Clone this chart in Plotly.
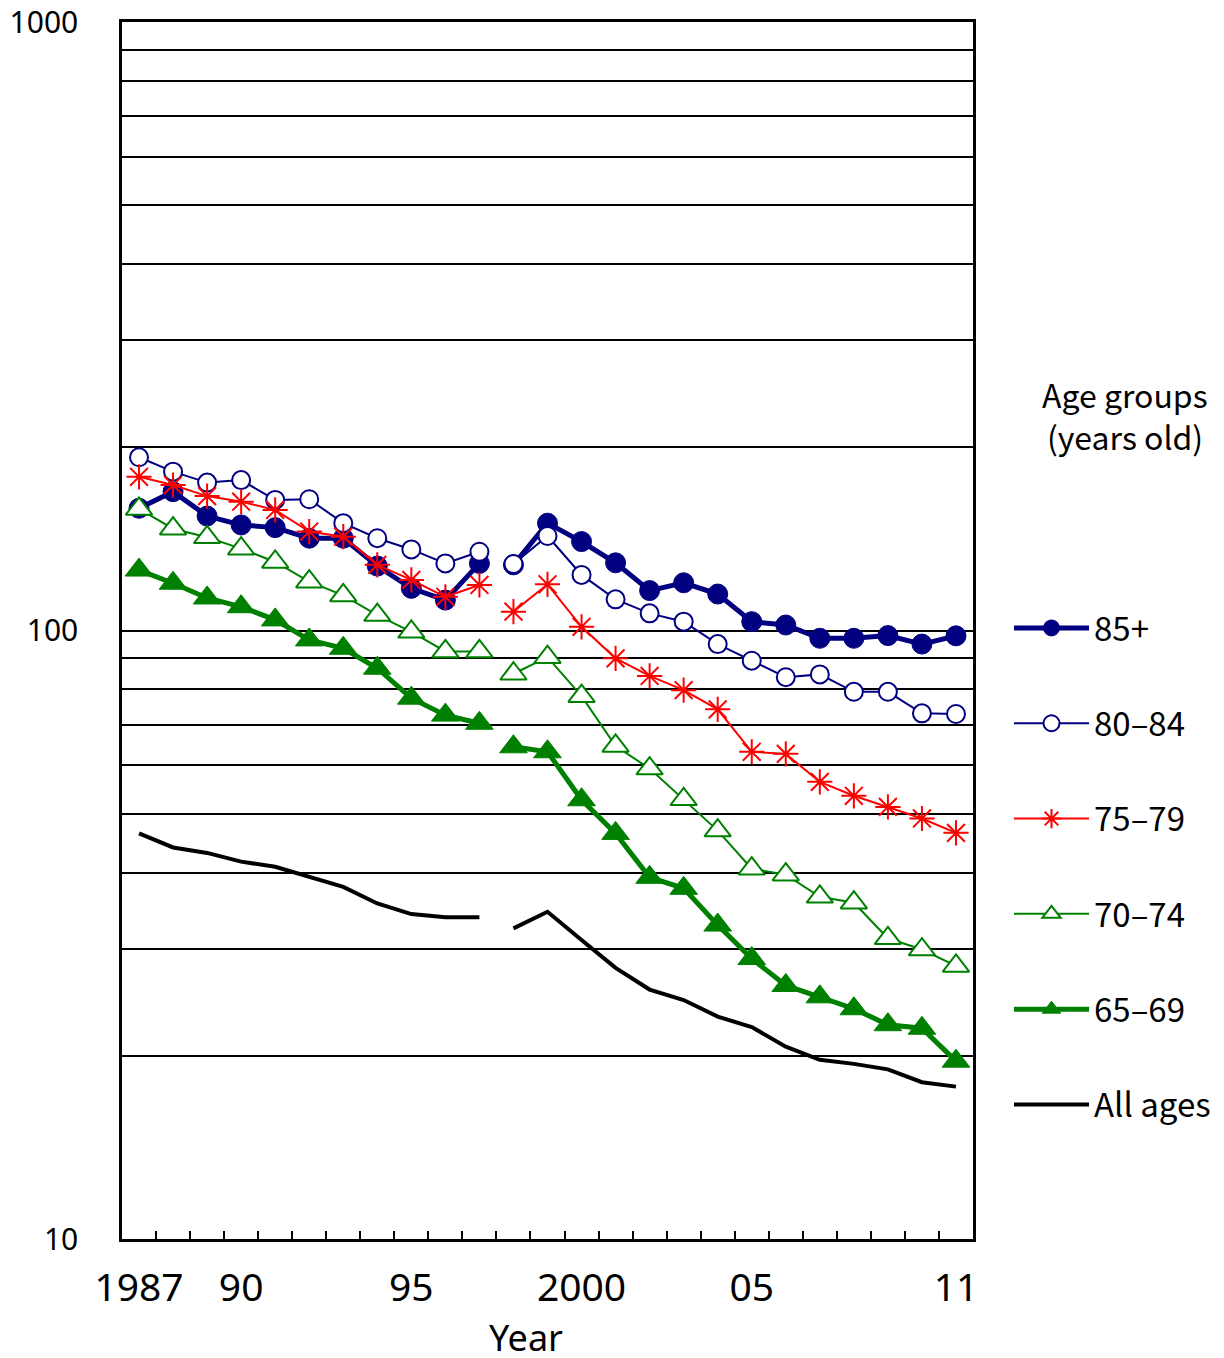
import plotly.graph_objects as go

years = list(range(1987, 2012))
break_after = 1997  # discontinuity between 1997 and 1998

age_85_plus = [158.8, 169.1, 154.2, 149.1, 147.6, 141.8, 141.8, 127.6, 117.3, 112.2, 128.9,
               128.2, 150.1, 140.0, 129.2, 116.3, 119.8, 114.8, 103.4, 102.1, 97.1, 97.1, 98.1, 95.0, 98.0]
age_80_84 = [192.6, 182.4, 175.0, 176.7, 163.9, 164.3, 150.1, 141.8, 135.9, 128.9, 134.7,
             128.6, 143.0, 123.4, 112.5, 106.7, 103.4, 95.0, 89.2, 83.8, 84.7, 79.3, 79.3, 73.1, 72.9]
age_75_79 = [178.9, 173.4, 166.3, 162.8, 157.8, 145.4, 142.6, 128.2, 121.1, 113.6, 118.8,
             107.4, 119.1, 101.4, 90.0, 84.2, 79.8, 74.2, 63.2, 62.7, 56.4, 53.5, 51.3, 49.1, 46.5]
age_70_74 = [158.4, 147.0, 142.3, 136.3, 129.6, 120.3, 114.2, 106.0, 99.5, 92.4, 92.4,
             84.9, 90.4, 78.0, 64.6, 59.3, 52.8, 46.9, 40.6, 39.7, 36.5, 35.7, 31.2, 29.9, 28.1]
age_65_69 = [125.7, 119.6, 113.1, 109.4, 104.1, 96.5, 93.5, 86.7, 77.4, 72.6, 70.4,
             64.4, 63.2, 52.7, 46.4, 39.3, 37.7, 32.8, 28.9, 26.1, 25.0, 23.9, 22.5, 22.2, 19.6]
all_ages = [46.4, 44.0, 43.1, 41.7, 40.9, 39.3, 37.9, 35.6, 34.2, 33.8, 33.8,
            32.4, 34.5, 31.0, 27.9, 25.7, 24.7, 23.2, 22.3, 20.7, 19.7, 19.4, 19.0, 18.1, 17.8]

x_tick_vals = [1987, 1990, 1995, 2000, 2005, 2011]
x_tick_text = ["1987", "90", "95", "2000", "05", "11"]
y_grid_vals = [10, 20, 30, 40, 50, 60, 70, 80, 90, 100, 200, 300, 400, 500, 600, 700, 800, 900, 1000]
y_label_vals = [10, 100, 1000]

NAVY = "#000080"
RED = "#FF0000"
GREEN = "#008000"
BLACK = "#000000"


def with_break(xs, ys):
    bx, by = [], []
    for x, y in zip(xs, ys):
        bx.append(x)
        by.append(y)
        if x == break_after:
            bx.append(None)
            by.append(None)
    return bx, by


series = [
    ("85+", age_85_plus, dict(color=NAVY, width=5), dict(symbol="circle", size=20, color=NAVY,
                                                         line=dict(color=NAVY, width=1))),
    ("80\u201384", age_80_84, dict(color=NAVY, width=2), dict(symbol="circle", size=18, color="white",
                                                              line=dict(color=NAVY, width=2))),
    ("75\u201379", age_75_79, dict(color=RED, width=2), dict(symbol="asterisk-open", size=21, color=RED,
                                                             line=dict(color=RED, width=2))),
    ("70\u201374", age_70_74, dict(color=GREEN, width=2), dict(symbol="triangle-up", size=23, color="white",
                                                               line=dict(color=GREEN, width=2))),
    ("65\u201369", age_65_69, dict(color=GREEN, width=5), dict(symbol="triangle-up", size=24, color=GREEN,
                                                               line=dict(color=GREEN, width=1))),
]

fig = go.Figure()
for i, (name, vals, line, marker) in enumerate(series):
    bx, by = with_break(years, vals)
    fig.add_trace(go.Scatter(x=bx, y=by, name=name, mode="lines+markers", line=line, marker=marker,
                             connectgaps=False, legendgroup=f"g{i}"))

bx, by = with_break(years, all_ages)
fig.add_trace(go.Scatter(x=bx, y=by, name="All ages", mode="lines", line=dict(color=BLACK, width=4),
                         connectgaps=False, legendgroup="g5"))

TICKFONT = "Noto Sans, sans-serif"
LEGFONT = "Noto Sans CJK JP, Noto Sans, sans-serif"

# page body adds an 8px offset; figure sized so the screenshot coordinates line up
OFF = 8
W, H = 1216, 1358
L, T = 122 - OFF, 22 - OFF
pw, ph = 851, 1217
R, B = W - L - pw, H - T - ph


def px_x(p):
    return (p - OFF - L) / pw


def px_y(p):
    return (T + ph - (p - OFF)) / ph


fig.update_layout(
    width=W, height=H,
    margin=dict(l=L, r=R, t=T, b=B, autoexpand=False),
    plot_bgcolor="white", paper_bgcolor="white",
    showlegend=True,
    legend=dict(
        x=px_x(1009), y=px_y(600), xanchor="left", yanchor="top",
        font=dict(family=LEGFONT, size=33, color="black"),
        traceorder="grouped", tracegroupgap=49.4, itemwidth=75,
        bgcolor="rgba(0,0,0,0)",
    ),
    xaxis=dict(
        range=[1986.5, 2011.5], tickvals=x_tick_vals, ticktext=x_tick_text,
        ticks="", showgrid=False, zeroline=False, automargin=False,
        showline=True, linecolor="black", linewidth=2.5, mirror=True,
        tickfont=dict(family=TICKFONT, size=39, color="black"),
        ticklabelstandoff=12, ticklabeloverflow="allow",
        minor=dict(tickvals=[y + 0.5 for y in years[:-1]], ticks="inside", ticklen=8,
                   tickwidth=1.5, tickcolor="black", showgrid=False),
    ),
    yaxis=dict(
        type="log", range=[1, 3], tickvals=y_grid_vals,
        ticktext=[str(v) if v in y_label_vals else "" for v in y_grid_vals],
        ticks="", showgrid=True, gridcolor="black", gridwidth=2, zeroline=False, automargin=False,
        showline=True, linecolor="black", linewidth=2.5, mirror=True,
        tickfont=dict(family=TICKFONT, size=30, color="black"),
        ticklabelstandoff=35, ticklabeloverflow="allow",
    ),
    annotations=[
        dict(text="Year", x=px_x(526), y=px_y(1337), xref="paper", yref="paper",
             xanchor="center", yanchor="middle", showarrow=False,
             font=dict(family=TICKFONT, size=36, color="black")),
        dict(text="Age groups", x=px_x(1125), y=px_y(394), xref="paper", yref="paper",
             xanchor="center", yanchor="middle", showarrow=False,
             font=dict(family=LEGFONT, size=32, color="black")),
        dict(text="(years old)", x=px_x(1125), y=px_y(436), xref="paper", yref="paper",
             xanchor="center", yanchor="middle", showarrow=False,
             font=dict(family=LEGFONT, size=32, color="black")),
    ],
)

fig.write_html("out.html")
